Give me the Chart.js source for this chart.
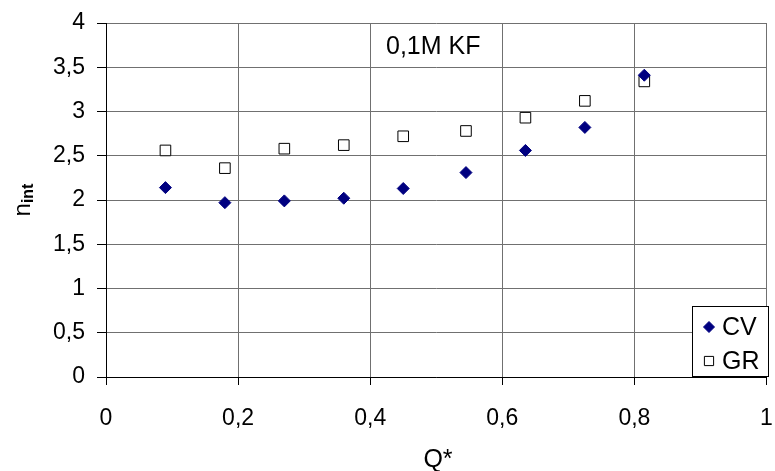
<!DOCTYPE html>
<html>
<head>
<script src="https://cdn.jsdelivr.net/npm/chart.js"></script>
<style>
  body { margin: 0; background: #fff; }
</style>
</head>
<body>
<canvas id="myChart" width="775" height="471"></canvas>
<script>
  // values
  const qStar = [0.09, 0.18, 0.27, 0.36, 0.45, 0.545, 0.635, 0.725, 0.815]
  const cvValues = [2.14, 1.97, 1.99, 2.02, 2.13, 2.31, 2.56, 2.82, 3.41]
  const grValues = [2.56, 2.36, 2.58, 2.62, 2.72, 2.78, 2.93, 3.12, 3.34]
  const xTicks = [0, 0.2, 0.4, 0.6, 0.8, 1]
  const yTicks = [0, 0.5, 1, 1.5, 2, 2.5, 3, 3.5, 4]
  const seriesNames = ['CV', 'GR']
  const noteText = '0,1M KF'

  const fontFam = '"Liberation Sans", Arial, sans-serif'
  const fmt = v => String(v).replace('.', ',')

  const toPoints = (xs, ys) => xs.map((x, i) => ({ x: x, y: ys[i] }))

  // axis titles, note and legend box
  const extras = {
    id: 'extras',
    afterDraw(chart) {
      const ctx = chart.ctx
      ctx.save()
      ctx.fillStyle = '#000'
      ctx.textBaseline = 'middle'

      // note
      ctx.font = '25px ' + fontFam
      ctx.textAlign = 'left'
      ctx.fillText(noteText, 386, 47)

      // x title
      ctx.textAlign = 'center'
      ctx.fillText('Q*', 438, 460)

      // y title with subscript
      ctx.translate(23, 200)
      ctx.rotate(-Math.PI / 2)
      ctx.textAlign = 'left'
      ctx.font = '24px ' + fontFam
      const wN = ctx.measureText('n').width
      ctx.font = 'bold 16px ' + fontFam
      const wSub = ctx.measureText('int').width
      const start = -(wN + wSub) / 2
      ctx.font = '24px ' + fontFam
      ctx.fillText('n', start, 0)
      ctx.font = 'bold 16px ' + fontFam
      ctx.fillText('int', start + wN, 6)
      ctx.restore()

      // legend
      ctx.save()
      const bx = 692, by = 306, bw = 76, bh = 70
      ctx.fillStyle = '#fff'
      ctx.fillRect(bx, by, bw, bh)
      ctx.strokeStyle = '#000'
      ctx.lineWidth = 1
      ctx.strokeRect(bx + 0.5, by + 0.5, bw, bh)
      ctx.font = '25px ' + fontFam
      ctx.textBaseline = 'middle'
      ctx.textAlign = 'left'
      chart.data.datasets.forEach((ds, i) => {
        const cy = by + 21 + i * 34
        ctx.fillStyle = ds.pointBackgroundColor
        ctx.strokeStyle = ds.pointBorderColor
        ctx.lineWidth = 1
        const r = ds.pointStyle === 'rect' ? 6.5 : 5.5
        Chart.helpers.drawPoint(ctx, { pointStyle: ds.pointStyle, radius: r, borderWidth: 1 }, 709, cy)
        ctx.fillStyle = '#000'
        ctx.fillText(ds.label, 722, cy + 1)
      })
      ctx.restore()
    }
  }

  new Chart(document.getElementById('myChart'), {
    type: 'scatter',
    data: {
      datasets: [
        {
          label: seriesNames[0],
          data: toPoints(qStar, cvValues),
          order: 0,
          pointStyle: 'rectRot',
          pointRadius: 6,
          pointBackgroundColor: '#000080',
          pointBorderColor: '#000080',
          pointBorderWidth: 1
        },
        {
          label: seriesNames[1],
          data: toPoints(qStar, grValues),
          order: 1,
          pointStyle: 'rect',
          pointRadius: 7.5,
          pointBackgroundColor: '#ffffff',
          pointBorderColor: '#000000',
          pointBorderWidth: 1
        }
      ]
    },
    options: {
      responsive: false,
      animation: false,
      layout: { padding: { top: 23, right: 3, left: 0, bottom: 0 } },
      plugins: {
        legend: { display: false },
        tooltip: { enabled: false }
      },
      scales: {
        x: {
          type: 'linear',
          min: 0,
          max: 1,
          afterBuildTicks: s => { s.ticks = xTicks.map(v => ({ value: v })) },
          afterFit: s => { s.height = 94; s.paddingLeft = 0; s.paddingRight = 0 },
          grid: { color: '#707070', tickLength: 8, tickColor: '#000' },
          border: { color: '#000' },
          ticks: {
            color: '#000',
            font: { family: fontFam, size: 23 },
            padding: 20,
            maxRotation: 0,
            callback: v => fmt(v)
          }
        },
        y: {
          min: 0,
          max: 4,
          afterBuildTicks: s => { s.ticks = yTicks.map(v => ({ value: v })) },
          afterFit: s => { s.width = 106; s.paddingTop = 0; s.paddingBottom = 0 },
          grid: { color: '#707070', tickLength: 9, tickColor: '#000' },
          border: { color: '#000' },
          ticks: {
            color: '#000',
            font: { family: fontFam, size: 23 },
            padding: 12,
            callback: v => fmt(v)
          }
        }
      }
    },
    plugins: [extras]
  })
</script>
</body>
</html>
